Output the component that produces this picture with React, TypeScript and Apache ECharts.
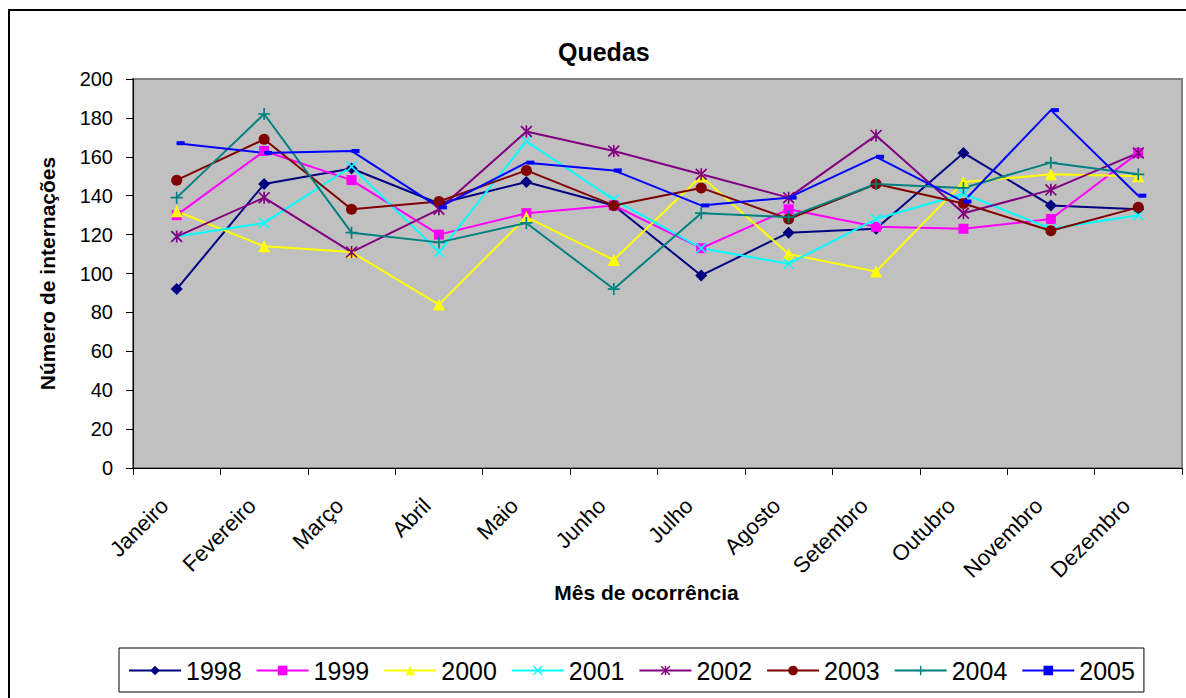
import React, { useEffect, useRef } from "react";
import * as echarts from "echarts";

const months = ["Janeiro", "Fevereiro", "Março", "Abril", "Maio", "Junho", "Julho", "Agosto", "Setembro", "Outubro", "Novembro", "Dezembro"];
const years = ["1998", "1999", "2000", "2001", "2002", "2003", "2004", "2005"];
const v1998 = [92, 146, 154, 136, 147, 135, 99, 121, 123, 162, 135, 133];
const v1999 = [130, 163, 148, 120, 131, 135, 113, 133, 124, 123, 128, 162];
const v2000 = [132, 114, 111, 84, 129, 107, 150, 110, 101, 147, 151, 150];
const v2001 = [119, 126, 155, 111, 168, 138, 113, 105, 128, 141, 123, 130];
const v2002 = [119, 139, 111, 133, 173, 163, 151, 139, 171, 131, 143, 162];
const v2003 = [148, 169, 133, 137, 153, 135, 144, 128, 146, 136, 122, 134];
const v2004 = [139, 182, 121, 116, 126, 92, 131, 129, 146, 144, 157, 151];
const v2005 = [167, 162, 163, 134, 157, 153, 135, 139, 160, 137, 184, 140];
const yTicks = [0, 20, 40, 60, 80, 100, 120, 140, 160, 180, 200];

const FONT = 'Arial, "Liberation Sans", sans-serif';

const X_PATH = "path://M0,1L1,0L10,9L9,10ZM9,0L10,1L1,10L0,9Z";
const STAR_PATH = "path://M0,1L1,0L10,9L9,10ZM9,0L10,1L1,10L0,9ZM4.3,0L5.7,0L5.7,10L4.3,10Z";
const PLUS_PATH = "path://M4.3,0L5.7,0L5.7,10L4.3,10ZM0,4.3L10,4.3L10,5.7L0,5.7Z";

const seriesDefs = [
  { name: years[0], data: v1998, color: "#000080", symbol: "diamond", size: 12, offset: [0, 0] },
  { name: years[1], data: v1999, color: "#FF00FF", symbol: "rect", size: 10, offset: [0, 0] },
  { name: years[2], data: v2000, color: "#FFFF00", symbol: "triangle", size: 12, offset: [0, 0] },
  { name: years[3], data: v2001, color: "#00FFFF", symbol: X_PATH, size: 11, offset: [0, 0] },
  { name: years[4], data: v2002, color: "#800080", symbol: STAR_PATH, size: 12, offset: [0, 0] },
  { name: years[5], data: v2003, color: "#800000", symbol: "circle", size: 11, offset: [0, 0] },
  { name: years[6], data: v2004, color: "#008080", symbol: PLUS_PATH, size: 12, offset: [0, 0] },
  { name: years[7], data: v2005, color: "#0000FF", symbol: "rect", size: [8, 4], offset: [4, 0] },
];

export default function App() {
  const ref = useRef<HTMLDivElement>(null);
  useEffect(() => {
    if (!ref.current) return;
    const chart = echarts.init(ref.current, null, { renderer: "svg" });
    chart.setOption({
      animation: false,
      backgroundColor: "#FFFFFF",
      textStyle: { fontFamily: FONT },
      title: {
        text: "Quedas",
        left: 553,
        top: 34,
        textStyle: { fontFamily: FONT, fontSize: 25, fontWeight: "bold", color: "#000" },
      },
      graphic: [
        {
          type: "rect",
          shape: { x: 9, y: 10, width: 1200, height: 720 },
          style: { fill: "none", stroke: "#000", lineWidth: 2 },
          silent: true,
          z: 100,
        },
      ],
      legend: {
        left: 119,
        top: 648,
        orient: "horizontal",
        selectedMode: false,
        data: years,
        itemWidth: 52,
        itemHeight: 12,
        itemGap: 14,
        padding: [10, 9, 9, 9],
        borderColor: "#000",
        borderWidth: 1,
        textStyle: { fontFamily: FONT, fontSize: 25, color: "#000" },
      },
      grid: {
        left: 133,
        top: 79,
        right: 4,
        bottom: 230,
        show: true,
        backgroundColor: "#C0C0C0",
        borderColor: "#808080",
        borderWidth: 2,
      },
      xAxis: {
        type: "category",
        data: months,
        boundaryGap: true,
        name: "Mês de ocorrência",
        nameLocation: "middle",
        nameGap: 114,
        nameMoveOverlap: false,
        nameTextStyle: { fontFamily: FONT, fontSize: 21, fontWeight: "bold", color: "#000", padding: [0, 22, 0, 0] },
        axisLine: { show: true, lineStyle: { color: "#000", width: 1 } },
        axisTick: { show: true, length: 7, lineStyle: { color: "#000" } },
        axisLabel: {
          interval: 0,
          rotate: 45,
          margin: 22,
          fontSize: 22,
          fontFamily: FONT,
          color: "#000",
          formatter: (v: string) => "{m|" + v + "}",
          rich: {
            m: { fontSize: 22, fontFamily: FONT, color: "#000", padding: [0, 17, 0, 0] },
          },
        },
        splitLine: { show: false },
      },
      yAxis: {
        type: "value",
        min: yTicks[0],
        max: yTicks[yTicks.length - 1],
        interval: 20,
        name: "Número de internações",
        nameLocation: "middle",
        nameGap: 75,
        nameMoveOverlap: false,
        nameTextStyle: { fontFamily: FONT, fontSize: 21, fontWeight: "bold", color: "#000" },
        axisLine: { show: true, lineStyle: { color: "#000", width: 1 } },
        axisTick: { show: true, length: 7, lineStyle: { color: "#000" } },
        axisLabel: { margin: 20, fontSize: 20, fontFamily: FONT, color: "#000" },
        splitLine: { show: false },
      },
      series: seriesDefs.map((s) => ({
        name: s.name,
        type: "line",
        data: s.data,
        symbol: s.symbol,
        symbolSize: s.size,
        symbolOffset: s.offset,
        showAllSymbol: true,
        itemStyle: { color: s.color },
        lineStyle: { color: s.color, width: 2 },
        emphasis: { disabled: true },
      })),
    });
    return () => chart.dispose();
  }, []);
  return <div ref={ref} style={{ position: "absolute", left: 0, top: 0, width: 1186, height: 698 }} />;
}
